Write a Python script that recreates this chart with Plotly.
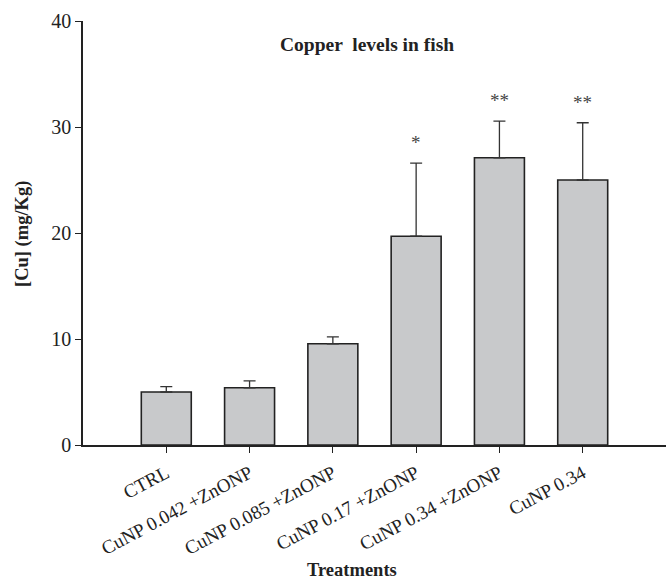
import plotly.graph_objects as go

categories = ["CTRL", "CuNP 0.042 +ZnONP", "CuNP 0.085 +ZnONP", "CuNP 0.17 +ZnONP",
              "CuNP 0.34 +ZnONP", "CuNP 0.34"]
means = [5.0, 5.4, 9.55, 19.7, 27.1, 25.0]
errors = [0.5, 0.65, 0.65, 6.9, 3.45, 5.4]
stars = ["", "", "", "*", "**", "**"]
yticks = [0, 10, 20, 30, 40]

FONT = "Liberation Serif"
INK = "#222222"
xs = list(range(len(categories)))

fig = go.Figure()
fig.add_trace(go.Bar(
    x=xs, y=means, width=0.6,
    marker=dict(color="#c8c9cb", line=dict(color=INK, width=1.6)),
    error_y=dict(type="data", array=errors, arrayminus=[0] * len(errors),
                 symmetric=False, color="#333333", thickness=1.3, width=6),
    showlegend=False,
))

annotations = []
for x, m, e, s in zip(xs, means, errors, stars):
    if s:
        annotations.append(dict(
            x=x, y=m + e, xref="x", yref="y", text=s, showarrow=False,
            yanchor="bottom", yshift=8,
            font=dict(family=FONT, size=19, color="#444444")))

annotations += [
    dict(text="<b>Copper  levels in fish</b>", x=(367 - 83) / 583, y=(445 - 45) / 424,
         xref="paper", yref="paper", showarrow=False, xanchor="center", yanchor="middle",
         font=dict(family=FONT, size=19.5, color=INK)),
    dict(text="<b>[Cu] (mg/Kg)</b>", x=(22 - 83) / 583, y=(445 - 234) / 424,
         xref="paper", yref="paper", showarrow=False, textangle=-90,
         xanchor="center", yanchor="middle",
         font=dict(family=FONT, size=18.5, color=INK)),
    dict(text="<b>Treatments</b>", x=(352 - 83) / 583, y=(445 - 570) / 424,
         xref="paper", yref="paper", showarrow=False, xanchor="center", yanchor="middle",
         font=dict(family=FONT, size=18.5, color=INK)),
]

fig.update_layout(
    width=666, height=579,
    margin=dict(l=83, r=0, t=21, b=134),
    paper_bgcolor="white", plot_bgcolor="white",
    font=dict(family=FONT, color=INK),
    xaxis=dict(
        range=[-1, 6], tickmode="array", tickvals=xs, ticktext=categories,
        tickangle=-28, ticks="outside", ticklen=6, tickcolor=INK, ticklabelstandoff=2,
        showline=True, linecolor=INK, linewidth=1.5, showgrid=False,
        zeroline=False, tickfont=dict(family=FONT, size=19, color=INK),
    ),
    yaxis=dict(
        range=[0, 40], tickmode="array", tickvals=yticks,
        ticks="outside", ticklen=6, tickcolor=INK,
        showline=True, linecolor=INK, linewidth=1.5, showgrid=False,
        zeroline=False, tickfont=dict(family=FONT, size=20, color=INK),
    ),
    annotations=annotations,
)

fig.write_html("out.html")
